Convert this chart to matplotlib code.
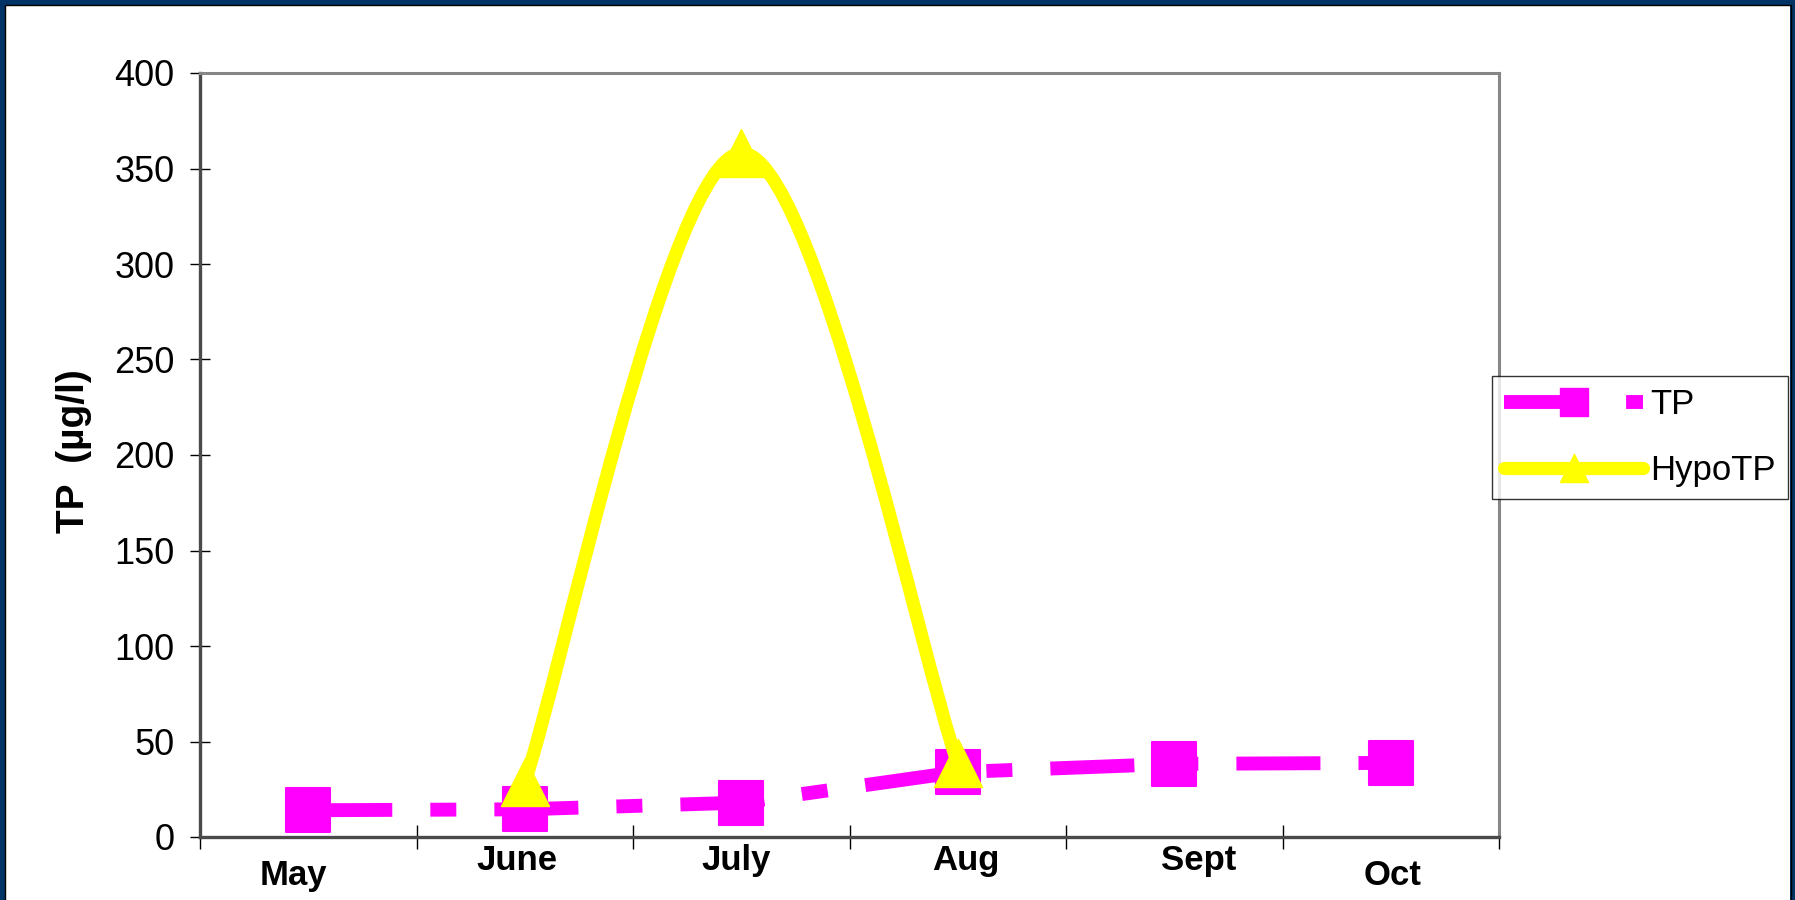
import matplotlib
matplotlib.use("Agg")
import matplotlib.pyplot as plt
from matplotlib.path import Path
from matplotlib.patches import PathPatch, Rectangle
from matplotlib.lines import Line2D
from matplotlib.markers import MarkerStyle
import matplotlib.transforms as mtransforms

# data
months = ["May", "June", "July", "Aug", "Sept", "Oct"]
tp = [14, 14.5, 18, 34, 38.3, 38.8]
hypo_months = ["June", "July", "Aug"]
hypo_tp = [28.6, 358, 38.5]
yticks = [0, 50, 100, 150, 200, 250, 300, 350, 400]

MAGENTA = "#ff00ff"
YELLOW = "#ffff00"
NAVY = "#003366"

# the month labels sit a bit irregularly in the original (pixels: dx, dy)
label_shift = {"May": (-15, -15), "June": (-8, 0), "July": (-5, 0),
               "Aug": (8, 0), "Sept": (24, 0), "Oct": (2, -15)}

plt.rcParams["font.family"] = ["Liberation Sans", "DejaVu Sans"]

fig = plt.figure(figsize=(17.95, 9), dpi=100)
fig.patch.set_facecolor("white")
ax = fig.add_axes([200 / 1795, 63 / 900, 1299 / 1795, 764 / 900])

x_tp = [months.index(m) for m in months]
x_hypo = [months.index(m) for m in hypo_months]

# TP: long dash-dot line with square markers
sq = MarkerStyle("s", joinstyle="round")
tp_line, = ax.plot(x_tp, tp, color=MAGENTA, lw=10, marker=sq, ms=32,
                   mec=MAGENTA, mew=1.5, solid_capstyle="butt", zorder=3)
tp_line.set_dashes((6.05, 2.74, 1.87, 2.74))

# HypoTP: smoothed line (excel-like bezier through the points)
pts = list(zip(x_hypo, hypo_tp))
verts = [pts[0]]
codes = [Path.MOVETO]
n = len(pts)
for i in range(n - 1):
    p_prev = pts[i - 1] if i > 0 else pts[i]
    p0, p1 = pts[i], pts[i + 1]
    p_next = pts[i + 2] if i + 2 < n else pts[i + 1]
    c1 = (p0[0] + (p1[0] - p_prev[0]) / 6, p0[1] + (p1[1] - p_prev[1]) / 6)
    c2 = (p1[0] - (p_next[0] - p0[0]) / 6, p1[1] - (p_next[1] - p0[1]) / 6)
    verts += [c1, c2, p1]
    codes += [Path.CURVE4] * 3
curve = PathPatch(Path(verts, codes), facecolor="none", edgecolor=YELLOW,
                  lw=9.5, capstyle="round", joinstyle="round", zorder=4)
ax.add_patch(curve)
tri = MarkerStyle("^", joinstyle="round")
ax.plot(x_hypo, hypo_tp, ls="none", marker=tri, ms=34, color=YELLOW,
        mec=YELLOW, mew=1, zorder=5)

# axes
ax.set_xlim(-0.5, len(months) - 0.5)
ax.set_ylim(0, 400)
ax.set_yticks(yticks)
ax.set_yticklabels([str(v) for v in yticks], fontsize=26)
ax.tick_params(axis="y", direction="inout", length=15, width=1, pad=11)

ax.set_xticks([i - 0.5 for i in range(len(months) + 1)])
ax.set_xticklabels([])
ax.tick_params(axis="x", which="major", direction="inout", length=17, width=1)
ax.set_xticks(range(len(months)), minor=True)
ax.set_xticklabels(months, minor=True, fontsize=25, fontweight="bold")
ax.tick_params(axis="x", which="minor", length=0, pad=5)
for lab in ax.get_xticklabels(minor=True):
    dx, dy = label_shift[lab.get_text()]
    shift = mtransforms.ScaledTranslation(dx / 100, dy / 100, fig.dpi_scale_trans)
    lab.set_transform(lab.get_transform() + shift)

for side in ("top", "right"):
    ax.spines[side].set_color("#868686")
    ax.spines[side].set_linewidth(2.2)
for side in ("left", "bottom"):
    ax.spines[side].set_color("#4a4a4a")
    ax.spines[side].set_linewidth(2.4)

fig.text(74 / 1795, 1 - 451 / 900, "TP  (\u00b5g/l)", rotation=90, ha="center",
         va="center", fontsize=28, fontweight="bold")

# legend
handles = [
    Line2D([0], [0], color=MAGENTA, lw=10, marker=sq, ms=20, mec=MAGENTA,
           dashes=(6.05, 2.74, 1.87, 2.74)),
    Line2D([0], [0], color=YELLOW, lw=9.5, marker=tri, ms=20, mec=YELLOW,
           solid_capstyle="round"),
]
leg = fig.legend(handles, ["TP", "HypoTP"], loc="upper left",
                 bbox_to_anchor=(1492 / 1795, 1 - 376 / 900), borderaxespad=0,
                 fontsize=25, frameon=True, fancybox=False, edgecolor="black",
                 handlelength=4.0, handletextpad=0.2, borderpad=0.35,
                 labelspacing=0.95)
leg.get_frame().set_linewidth(1)

# navy slide border (bottom edge cut off)
fig.add_artist(Rectangle((0, -0.2), 1, 1.2, transform=fig.transFigure,
                         fill=False, edgecolor=NAVY, lw=7.2, zorder=10))
fig.add_artist(Rectangle((4.5 / 1795, -0.2), 1 - 8.5 / 1795, 1.2 - 4.5 / 900,
                         transform=fig.transFigure, fill=False,
                         edgecolor="black", lw=1, zorder=10))

fig.savefig("out.png", dpi=100)
